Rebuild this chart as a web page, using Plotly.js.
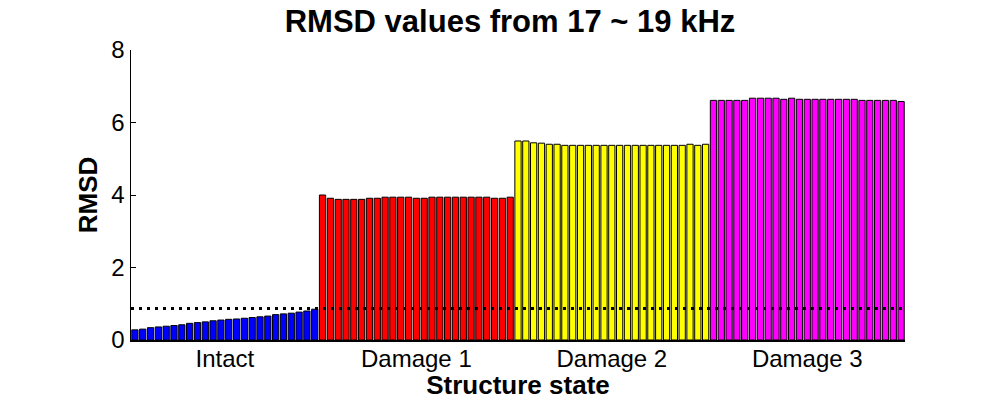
<!DOCTYPE html>
<html>
<head>
<meta charset="utf-8">
<script src="https://cdn.plot.ly/plotly-3.0.1.min.js"></script>
<style>html,body{margin:0;padding:0;background:#fff;}#chart{width:1000px;height:400px;}</style>
</head>
<body>
<div id="chart"></div>
<script>
var categories = ["Intact", "Damage 1", "Damage 2", "Damage 3"];
var intact = [0.28, 0.30, 0.34, 0.36, 0.38, 0.40, 0.42, 0.46, 0.48, 0.50, 0.53, 0.55, 0.57, 0.58, 0.60, 0.62, 0.64, 0.66, 0.70, 0.72, 0.74, 0.77, 0.80, 0.85];
var damage1 = [4.00, 3.91, 3.88, 3.88, 3.88, 3.88, 3.91, 3.91, 3.94, 3.94, 3.94, 3.94, 3.91, 3.91, 3.94, 3.94, 3.94, 3.94, 3.94, 3.94, 3.94, 3.94, 3.91, 3.91, 3.94];
var damage2 = [5.49, 5.49, 5.44, 5.43, 5.40, 5.40, 5.37, 5.37, 5.37, 5.37, 5.37, 5.37, 5.37, 5.37, 5.37, 5.37, 5.37, 5.37, 5.37, 5.37, 5.37, 5.37, 5.40, 5.37, 5.40];
var damage3 = [6.61, 6.61, 6.61, 6.61, 6.61, 6.67, 6.67, 6.67, 6.67, 6.64, 6.67, 6.64, 6.64, 6.64, 6.64, 6.64, 6.64, 6.64, 6.64, 6.61, 6.61, 6.61, 6.61, 6.61, 6.58];
var threshold = 0.87;
var groupColors = ["#0000FF", "#FF0000", "#FFFF00", "#FF00FF"];
var groups = [intact, damage1, damage2, damage3];

var traces = [];
var tickvals = [];
var offset = 0;
groups.forEach(function(vals, g) {
  var xs = vals.map(function(v, i) { return offset + i + 1; });
  traces.push({
    type: "bar", x: xs, y: vals, width: 0.8,
    marker: {color: groupColors[g], line: {color: "#000", width: 1}},
    name: categories[g], hoverinfo: "x+y"
  });
  tickvals.push(offset + (vals.length + 1) / 2);
  offset += vals.length;
});
var total = offset;
traces.push({
  type: "scatter", mode: "lines", x: [0.5, total + 0.5], y: [threshold, threshold],
  line: {color: "#000", width: 3, dash: "3px,5px"}, hoverinfo: "skip"
});

var layout = {
  width: 1000, height: 400,
  margin: {l: 131, r: 95, t: 50, b: 60},
  paper_bgcolor: "#fff", plot_bgcolor: "#fff",
  showlegend: false, barmode: "overlay",
  font: {family: "Liberation Sans, Arial, sans-serif", color: "#000", size: 24},
  title: {text: "<b>RMSD values from 17 ~ 19 kHz</b>", font: {size: 31, color: "#000"}, x: 0.51, xanchor: "center", y: 0.948, yanchor: "middle"},
  xaxis: {
    range: [0.5, total + 0.5], tickvals: tickvals, ticktext: categories,
    ticks: "", showgrid: false, zeroline: false, showline: true, linecolor: "#000", linewidth: 1.5,
    tickfont: {size: 24}, ticklabelstandoff: -3,
    title: {text: "<b>Structure state</b>", font: {size: 26}, standoff: 0}
  },
  yaxis: {
    range: [0, 8], tickvals: [0, 2, 4, 6, 8], ticks: "inside", ticklen: 5, tickcolor: "#000",
    showgrid: false, zeroline: false, showline: true, linecolor: "#000", linewidth: 1.5,
    tickfont: {size: 24}, ticklabelstandoff: 0,
    title: {text: "<b>RMSD</b>", font: {size: 26}, standoff: 6}
  }
};
Plotly.newPlot("chart", traces, layout, {displayModeBar: false, staticPlot: true});
</script>
</body>
</html>
